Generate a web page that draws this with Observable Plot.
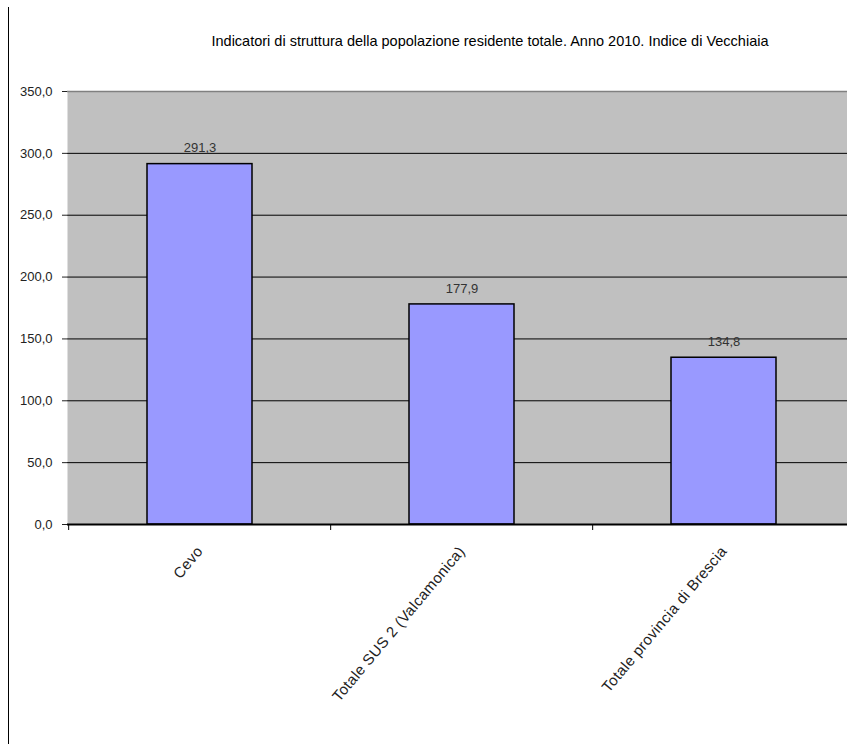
<!DOCTYPE html>
<html>
<head>
<meta charset="utf-8">
<script src="https://cdn.jsdelivr.net/npm/d3@7"></script>
<script src="https://cdn.jsdelivr.net/npm/@observablehq/plot@0.6"></script>
<style>
  body { margin: 0; background: #fff; font-family: "Liberation Sans", Arial, sans-serif; }
  #wrap { position: relative; width: 847px; height: 744px; overflow: hidden; }
  #title { position: absolute; left: 0; width: 980px; top: 33px; text-align: center; font-size: 14.5px; color: #000; white-space: nowrap; }
  #vline { position: absolute; left: 8px; top: 7px; width: 1px; height: 737px; background: #000; }
  #chart { position: absolute; left: 0; top: 0; }
  .xlab text { letter-spacing: 0.4px; }
</style>
</head>
<body>
<div id="wrap">
  <div id="vline"></div>
  <div id="title">Indicatori di struttura della popolazione residente totale. Anno 2010. Indice di Vecchiaia</div>
  <div id="chart"></div>
</div>
<script>
const categories = ["Cevo", "Totale SUS 2 (Valcamonica)", "Totale provincia di Brescia"];
const values = [291.3, 177.9, 134.8];
const yTicks = [0, 50, 100, 150, 200, 250, 300, 350];

const data = categories.map((c, i) => ({category: c, value: values[i]}));
const fmt = d3.formatLocale({decimal: ",", thousands: ".", grouping: [3], currency: ["", "€"]}).format(".1f");

const xRange = [67, 855];
const step = (xRange[1] - xRange[0]) / categories.length;

const plot = Plot.plot({
  width: 847,
  height: 744,
  marginTop: 91,
  marginBottom: 220,
  marginLeft: 67,
  marginRight: 0,
  style: {fontFamily: "'Liberation Sans', Arial, sans-serif", fontSize: "13px", background: "transparent"},
  x: {domain: categories, range: xRange, paddingInner: 0.6, paddingOuter: 0.3, label: null},
  y: {domain: [0, 350], label: null},
  marks: [
    Plot.frame({fill: "#c0c0c0", stroke: null}),
    Plot.ruleY(yTicks.filter(d => d > 0 && d < 350), {stroke: "#000", strokeWidth: 1}),
    Plot.ruleY([350], {stroke: "#808080", strokeWidth: 1.5}),
    Plot.barY(data, {x: "category", y: "value", fill: "#9999ff", stroke: "#000", strokeWidth: 1.5}),
    Plot.text(data, {x: "category", y: "value", text: d => fmt(d.value), dy: -16, fill: "#333", fontSize: 13}),
    Plot.axisY({ticks: yTicks, tickFormat: fmt, tickSize: 5, tickPadding: 10, color: "#222", fontSize: 13}),
    Plot.ruleX([0], {x: () => 0, frameAnchor: "left", stroke: "#808080"}),
    Plot.ruleY([0], {stroke: "#000", strokeWidth: 2}),
    Plot.axisX({tickSize: 6, tickFormat: () => "", dx: -step / 2, stroke: "#000"}),
    Plot.axisX({tickSize: 0, tickPadding: 24, tickRotate: -50, fontSize: 15, fill: "#222", className: "xlab"})
  ]
});
document.getElementById("chart").appendChild(plot);
</script>
</body>
</html>
